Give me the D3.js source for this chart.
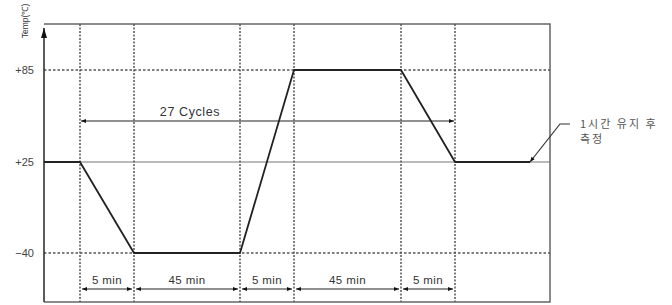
<!DOCTYPE html>
<html><head><meta charset="utf-8">
<script src="https://cdn.jsdelivr.net/npm/d3@7"></script>
<style>body{margin:0;background:#fff}svg{display:block}</style>
</head><body>
<script>
// Data (schematic temperature cycle profile)
const timeBreaks = [-10, 0, 5, 50, 55, 100, 105, 165, 175];   // minutes (schematic)
const tempLevels = [-40, 25, 85];
const tempTickLabels = ["\u221240", "+25", "+85"];
const profileTime = [-10, 0, 5, 50, 55, 100, 105, 165];
const profileTemp = [25, 25, -40, -40, 85, 85, 25, 25];
const segStart = [0, 5, 50, 55, 100];
const segEnd = [5, 50, 55, 100, 105];
const segLabels = ["5 min", "45 min", "5 min", "45 min", "5 min"];
const cycleLabel = "27 Cycles";
const noteLines = ["1\uC2DC\uAC04 \uC720\uC9C0 \uD6C4", "\uCE21\uC815"];
const yTitle = "Temp(\u2103)";

const W = 672, H = 305;
const svg = d3.select("body").append("svg").attr("width", W).attr("height", H);
const x = d3.scaleLinear().domain(timeBreaks).range([44, 80, 134, 240, 294, 401, 455, 530, 550]);
const y = d3.scaleLinear().domain(tempLevels).range([253, 162, 70]);
const frameTop = 24, frameBottom = 302;
const gridCol = "#555";
const font = "Liberation Sans, Arial, sans-serif";

const defs = svg.append("defs");
function marker(id, dir) {
  defs.append("marker").attr("id", id).attr("viewBox", "0 0 10 10")
    .attr("refX", dir > 0 ? 10 : 0).attr("refY", 5).attr("markerWidth", 7).attr("markerHeight", 5)
    .attr("markerUnits", "userSpaceOnUse").attr("orient", "auto")
    .append("path").attr("d", dir > 0 ? "M0,1 L10,5 L0,9 Z" : "M10,1 L0,5 L10,9 Z").attr("fill", "#111");
}
marker("ae", 1); marker("as", -1);

// Frame: top, right, bottom
svg.append("path").attr("d", `M${x(-10)},${frameTop} H${x(175)} V${frameBottom} H${x(-10)}`)
  .attr("fill", "none").attr("stroke", "#666").attr("stroke-width", 1.5);

// Horizontal dotted grid at +85 and -40
[85, -40].forEach(t => svg.append("line").attr("x1", x(-10)).attr("x2", x(175))
  .attr("y1", y(t)).attr("y2", y(t)).attr("stroke", gridCol).attr("stroke-width", 1.3)
  .attr("stroke-dasharray", "2.5,2"));
// +25 solid thin line
svg.append("line").attr("x1", x(-10)).attr("x2", x(175)).attr("y1", y(25)).attr("y2", y(25))
  .attr("stroke", "#777").attr("stroke-width", 1.2);

// Vertical dotted lines
const vts = [0, 5, 50, 55, 100, 105];
vts.forEach(t => svg.append("line").attr("x1", x(t)).attr("x2", x(t)).attr("y1", frameTop).attr("y2", frameBottom)
  .attr("stroke", gridCol).attr("stroke-width", 1.5).attr("stroke-dasharray", "2,1.5"));

// Y axis with arrow
svg.append("line").attr("x1", x(-10)).attr("x2", x(-10)).attr("y1", frameBottom).attr("y2", 28)
  .attr("stroke", "#333").attr("stroke-width", 1.6);
svg.append("path").attr("d", `M${x(-10) - 3},38 L${x(-10)},28 L${x(-10) + 3},38 Z`).attr("fill", "#111");

// Tick labels
tempLevels.forEach((t, i) => svg.append("text").attr("x", 34).attr("y", y(t)).attr("dy", "0.35em")
  .attr("text-anchor", "end").attr("font-family", font).attr("font-size", 11).attr("fill", "#444")
  .text(tempTickLabels[i]));

// Y title rotated
svg.append("text").attr("transform", "translate(28,21) rotate(-90)").attr("text-anchor", "middle")
  .attr("font-family", font).attr("font-size", 8.5).attr("fill", "#333").text(yTitle);

// Profile line
const line = d3.line().x((d, i) => x(profileTime[i])).y((d, i) => y(profileTemp[i]));
svg.append("path").datum(profileTime).attr("d", line).attr("fill", "none")
  .attr("stroke", "#222").attr("stroke-width", 1.8).attr("stroke-linejoin", "round");

// 27 cycles arrow
const cy = 121;
svg.append("line").attr("x1", x(0) + 1).attr("x2", x(105) - 1).attr("y1", cy).attr("y2", cy)
  .attr("stroke", "#222").attr("stroke-width", 1.2)
  .attr("marker-start", "url(#as)").attr("marker-end", "url(#ae)");
svg.append("text").attr("x", 190).attr("y", 116).attr("text-anchor", "middle")
  .attr("font-family", font).attr("font-size", 12.5).attr("letter-spacing", 0.6).attr("fill", "#333").text(cycleLabel);

// Segment arrows
const ay = 289;
segLabels.forEach((lab, i) => {
  const a = x(segStart[i]) + 2, b = x(segEnd[i]) - 2;
  svg.append("line").attr("x1", a).attr("x2", b).attr("y1", ay).attr("y2", ay)
    .attr("stroke", "#222").attr("stroke-width", 1.2)
    .attr("marker-start", "url(#as)").attr("marker-end", "url(#ae)");
  svg.append("text").attr("x", (a + b) / 2).attr("y", 284).attr("text-anchor", "middle")
    .attr("font-family", font).attr("font-size", 11.5).attr("letter-spacing", 0.4).attr("fill", "#333").text(lab);
});

// Leader and note
svg.append("path").attr("d", `M${x(165)},${y(25)} L560,124 L570,124`).attr("fill", "none")
  .attr("stroke", "#333").attr("stroke-width", 1.2).attr("marker-start", "url(#as)");
noteLines.forEach((t, i) => svg.append("text").attr("x", 580).attr("y", 128 + i * 15)
  .attr("font-family", "Noto Sans CJK KR, sans-serif").attr("font-size", 11).attr("letter-spacing", 2)
  .attr("fill", "#555").text(t));
</script>
</body></html>
